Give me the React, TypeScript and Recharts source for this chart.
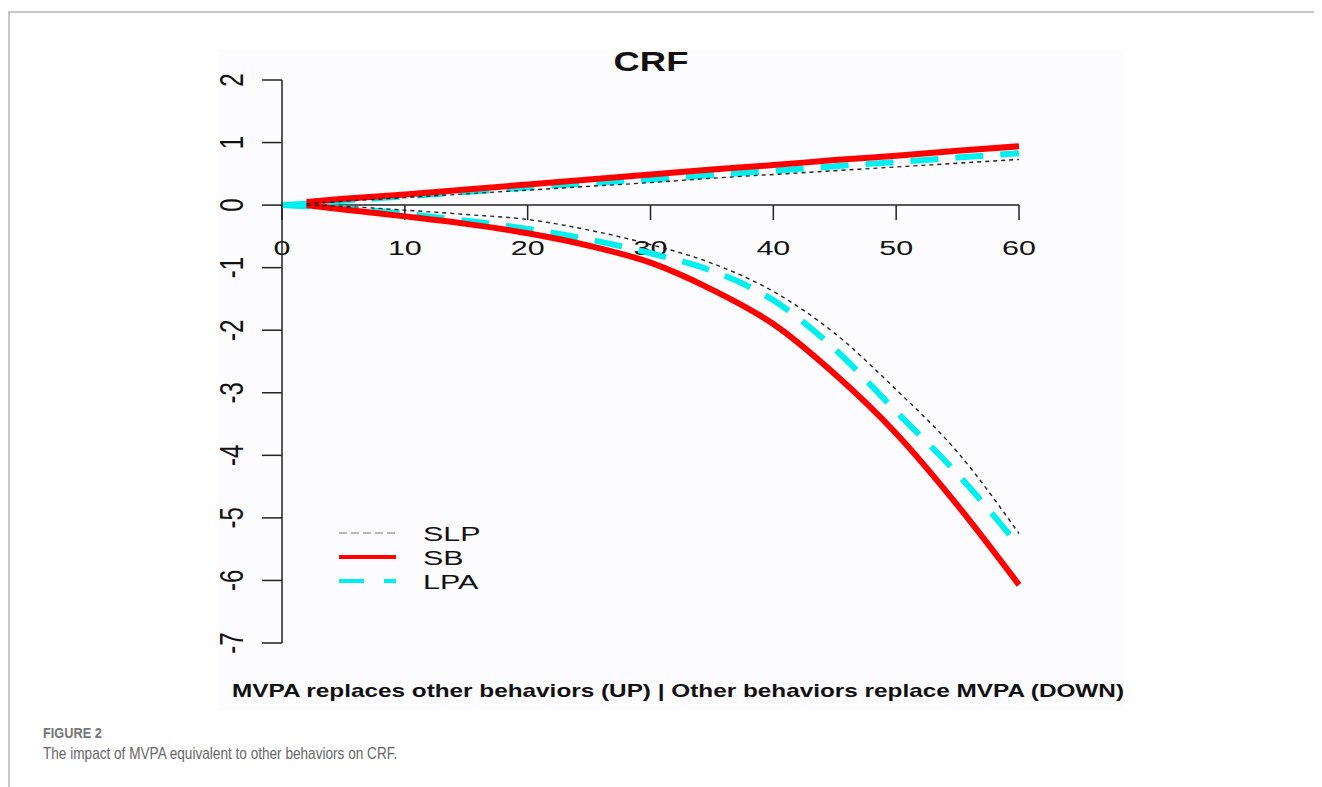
import React from 'react';
import { LineChart, Line, XAxis, YAxis, ReferenceLine, Legend } from 'recharts';

// minutes reallocated
const minutes = [0, 2, 5, 10, 15, 20, 25, 30, 35, 40, 45, 50, 55, 60];

// MVPA replaces other behaviours (upper branch)
const slpUp = [null, 0.02, 0.06, 0.12, 0.18, 0.24, 0.3, 0.36, 0.43, 0.49, 0.55, 0.61, 0.67, 0.73];
const sbUp = [null, 0.05, 0.1, 0.17, 0.25, 0.33, 0.41, 0.49, 0.57, 0.64, 0.72, 0.79, 0.87, 0.94];
const lpaUp = [0, 0.02, 0.07, 0.14, 0.21, 0.28, 0.35, 0.41, 0.48, 0.55, 0.62, 0.69, 0.76, 0.83];

// other behaviours replace MVPA (lower branch)
const slpDown = [null, 0, -0.02, -0.08, -0.15, -0.23, -0.4, -0.63, -0.93, -1.38, -2.05, -2.95, -3.95, -5.25];
const sbDown = [null, 0, -0.07, -0.18, -0.3, -0.45, -0.65, -0.92, -1.35, -1.9, -2.7, -3.65, -4.8, -6.07];
const lpaDown = [0, -0.02, -0.05, -0.14, -0.25, -0.38, -0.55, -0.77, -1.05, -1.52, -2.3, -3.3, -4.3, -5.45];

const xTicks = [0, 10, 20, 30, 40, 50, 60];
const yTicks = [2, 1, 0, -1, -2, -3, -4, -5, -6, -7];
const legendNames = ['SLP', 'SB', 'LPA'];

const data = minutes.map((m, i) => ({
  m,
  slpUp: slpUp[i],
  sbUp: sbUp[i],
  lpaUp: lpaUp[i],
  slpDown: slpDown[i],
  sbDown: sbDown[i],
  lpaDown: lpaDown[i],
}));

const FONT = '"Liberation Sans", Arial, Helvetica, sans-serif';
const STRETCH = 1.45;

const styles: Record<string, { stroke: string; width: number; dash?: string }> = {
  SLP: { stroke: '#222', width: 1.4, dash: '4 4' },
  SB: { stroke: '#ff0000', width: 6 },
  LPA: { stroke: '#00f0f0', width: 6, dash: '28 17' },
};

const YTick = (props: any) => {
  const { x, y, payload } = props;
  return (
    <g transform={`translate(${x - 19},${y}) scale(1.4,1) rotate(-90)`}>
      <text x={0} y={0} textAnchor="middle" fontSize={24} fill="#111" fontFamily={FONT}>
        {payload.value}
      </text>
    </g>
  );
};

const XTickLabel = (props: any) => {
  const { viewBox, tickText } = props;
  const cx = viewBox.x;
  const by = viewBox.y + viewBox.height + 35;
  return (
    <text transform={`translate(${cx},${by}) scale(${STRETCH},1)`} textAnchor="middle" fontSize={21} fill="#111" fontFamily={FONT}>
      {tickText}
    </text>
  );
};

const LegendBox = () => (
  <svg width={170} height={76}>
    {legendNames.map((n, i) => {
      const s = styles[n];
      const y = 13 + i * 24;
      return (
        <g key={n}>
          <line x1={4} x2={61} y1={y} y2={y} stroke={n === 'SLP' ? '#777' : s.stroke} strokeWidth={n === 'SLP' ? 1.2 : 4} strokeDasharray={n === 'LPA' ? '25 20' : n === 'SLP' ? '8 4' : undefined} />
          <text transform={`translate(88,${y + 8}) scale(${STRETCH},1)`} fontSize={21} fill="#111" fontFamily={FONT}>
            {n}
          </text>
        </g>
      );
    })}
  </svg>
);

export default function App() {
  return (
    <div style={{ position: 'relative', width: 1314, height: 779, overflow: 'hidden', background: '#fff' }}>
      <div style={{ position: 'absolute', left: 0, top: 3, width: 1314, height: 2, background: '#c8c8c8' }} />
      <div style={{ position: 'absolute', left: 0, top: 3, width: 2, height: 776, background: '#c8c8c8' }} />

      <div style={{ position: 'absolute', left: 210, top: 42, width: 906, height: 660, background: '#fcfbfd' }}>
        <div style={{ position: 'absolute', left: -24, top: 0 }}>
          <LineChart width={930} height={660} data={data} margin={{ top: 30, right: 105, bottom: 67, left: 24 }}>
            <XAxis dataKey="m" type="number" domain={[0, 60]} hide />
            <YAxis
              type="number"
              domain={[-7, 2]}
              ticks={yTicks}
              interval={0}
              width={64}
              tickSize={20}
              tickMargin={0}
              axisLine={{ stroke: '#222', strokeWidth: 1.5 }}
              tickLine={{ stroke: '#222', strokeWidth: 1.5 }}
              tick={<YTick />}
            />
            <ReferenceLine segment={[{ x: 0, y: 0 }, { x: 60, y: 0 }]} stroke="#222" strokeWidth={1.5} />
            {xTicks.map((t) => (
              <ReferenceLine
                key={t}
                segment={[{ x: t, y: 0 }, { x: t, y: -0.24 }]}
                stroke="#222"
                strokeWidth={1.5}
                label={<XTickLabel tickText={String(t)} />}
              />
            ))}
            <Line type="monotone" dataKey="lpaUp" stroke={styles.LPA.stroke} strokeWidth={6} strokeDasharray={styles.LPA.dash} dot={false} isAnimationActive={false} legendType="none" />
            <Line type="monotone" dataKey="lpaDown" stroke={styles.LPA.stroke} strokeWidth={6} strokeDasharray={styles.LPA.dash} dot={false} isAnimationActive={false} legendType="none" />
            <Line type="monotone" dataKey="sbUp" stroke={styles.SB.stroke} strokeWidth={6} dot={false} isAnimationActive={false} legendType="none" />
            <Line type="monotone" dataKey="sbDown" stroke={styles.SB.stroke} strokeWidth={6} dot={false} isAnimationActive={false} legendType="none" />
            <Line type="monotone" dataKey="slpUp" stroke={styles.SLP.stroke} strokeWidth={styles.SLP.width} strokeDasharray={styles.SLP.dash} dot={false} isAnimationActive={false} legendType="none" />
            <Line type="monotone" dataKey="slpDown" stroke={styles.SLP.stroke} strokeWidth={styles.SLP.width} strokeDasharray={styles.SLP.dash} dot={false} isAnimationActive={false} legendType="none" />
            <Legend
              layout="horizontal"
              verticalAlign="middle"
              align="center"
              content={<LegendBox />}
              wrapperStyle={{ left: 141, top: 470, width: 170, height: 76 }}
            />
          </LineChart>
        </div>
        <div style={{ position: 'absolute', left: 333, top: -4, width: 200, textAlign: 'center', fontFamily: FONT, fontWeight: 'bold', fontSize: 28, color: '#111', transform: 'scaleX(1.3)', lineHeight: '32px' }}>
          CRF
        </div>
        <svg width={906} height={660} style={{ position: 'absolute', left: 0, top: 0, pointerEvents: 'none' }}>
          <text x={14} y={647} fontSize={19} fontWeight="bold" fill="#111" fontFamily={FONT} textLength={892} lengthAdjust="spacingAndGlyphs">
            MVPA replaces other behaviors (UP) | Other behaviors replace MVPA (DOWN)
          </text>
        </svg>
      </div>

      <div style={{ position: 'absolute', left: 35, top: 716, fontFamily: FONT, color: '#777', fontSize: 15, fontWeight: 600, transform: 'scaleX(0.85)', transformOrigin: 'left top' }}>
        FIGURE 2
      </div>
      <div style={{ position: 'absolute', left: 35, top: 736, fontFamily: FONT, color: '#666', fontSize: 17, transform: 'scaleX(0.8)', transformOrigin: 'left top', whiteSpace: 'nowrap' }}>
        The impact of MVPA equivalent to other behaviors on CRF.
      </div>
    </div>
  );
}
